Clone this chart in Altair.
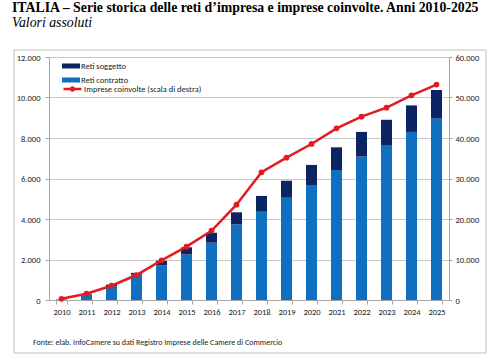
import altair as alt
import pandas as pd

years = [str(y) for y in range(2010, 2026)]
reti_contratto = [20, 260, 690, 1260, 1710, 2250, 2830, 3740, 4360, 5050, 5680, 6420, 7080, 7620, 8300, 8970]
reti_soggetto = [10, 30, 70, 80, 230, 350, 490, 590, 780, 840, 990, 1120, 1220, 1280, 1310, 1400]
imprese = [300, 1550, 3530, 6170, 9800, 13170, 17100, 23530, 31540, 35140, 38520, 42390, 45270, 47490, 50540, 53190]

TITLE = "ITALIA – Serie storica delle reti d’impresa e imprese coinvolte. Anni 2010-2025"
SUBTITLE = "Valori assoluti"
FOOTER = "Fonte: elab. InfoCamere su dati Registro Imprese delle Camere di Commercio"
SANS = "Carlito, Liberation Sans Narrow, DejaVu Sans Condensed, sans-serif"

rows = []
for i, y in enumerate(years):
    rows.append({"anno": y, "serie": "Reti contratto", "valore": reti_contratto[i], "ord": 0})
    rows.append({"anno": y, "serie": "Reti soggetto", "valore": reti_soggetto[i], "ord": 1})
bars_df = pd.DataFrame(rows)
line_df = pd.DataFrame({"anno": years, "imprese": imprese, "serie": ["Imprese coinvolte (scala di destra)"] * len(years)})

fmt = "replace(format(datum.value, ','), ',', '.')"

xenc = alt.X("anno:N", title=None, scale=alt.Scale(paddingInner=0.56, paddingOuter=0.28),
             axis=alt.Axis(labelAngle=0, labelFont=SANS, labelFontSize=8.5, labelColor="#222",
                           domainColor="#a6a6a6", tickColor="#a6a6a6", tickBand="extent", tickSize=4,
                           labelPadding=3))

bars = alt.Chart(bars_df).mark_bar().encode(
    x=xenc,
    y=alt.Y("sum(valore):Q", title=None, stack="zero",
            scale=alt.Scale(domain=[0, 12000], nice=False),
            axis=alt.Axis(values=list(range(0, 12001, 2000)), labelExpr=fmt, labelFont=SANS, labelFontSize=8.5,
                          labelColor="#222", grid=True, gridColor="#c8c8c8", domainColor="#a6a6a6",
                          tickColor="#a6a6a6", tickSize=4, labelPadding=5)),
    color=alt.Color("serie:N", scale=alt.Scale(domain=["Reti soggetto", "Reti contratto"], range=["#0c2461", "#0f6fc1"]),
                    legend=alt.Legend(title=None, orient="none", legendX=13, legendY=5, labelFont=SANS,
                                      labelFontSize=8.5, labelColor="#222", padding=0, rowPadding=5, clipHeight=8,
                                      symbolType="M-1,-0.28H1V0.28H-1Z", symbolSize=324, symbolStrokeWidth=0,
                                      labelOffset=1, symbolOffset=0)),
    order=alt.Order("ord:Q"),
)

line = alt.Chart(line_df).mark_line(color="#e31b23", strokeWidth=2.5, point=alt.OverlayMarkDef(color="#e31b23", size=14, filled=True)).encode(
    x=alt.X("anno:N"),
    y=alt.Y("imprese:Q", title=None, scale=alt.Scale(domain=[0, 60000], nice=False),
            axis=alt.Axis(orient="right", values=list(range(0, 60001, 10000)), labelExpr=fmt, labelFont=SANS,
                          labelFontSize=8.5, labelColor="#222", grid=False, domainColor="#a6a6a6",
                          tickColor="#a6a6a6", tickSize=3, labelPadding=3)),
    stroke=alt.Stroke("serie:N", scale=alt.Scale(range=["#e31b23"]),
                      legend=alt.Legend(title=None, orient="none", legendX=13, legendY=28, labelFont=SANS,
                                        labelFontSize=8.5, labelColor="#222", padding=0, clipHeight=8,
                                        symbolType="M-1,0H1M0.16,0A0.16,0.16 0 1,1 -0.16,0A0.16,0.16 0 1,1 0.16,0",
                                        symbolSize=324, symbolStrokeWidth=2.5, symbolFillColor="#e31b23",
                                        labelOffset=1)),
)

frame_df = pd.DataFrame({"k": [1]})
frame = alt.Chart(frame_df).mark_rect(fill=None, stroke="#bfbfbf", strokeWidth=1).encode(
    x=alt.value(-35), x2=alt.value(437), y=alt.value(-7), y2=alt.value(296))

foot_df = pd.DataFrame({"t": [FOOTER]})
footer = alt.Chart(foot_df).mark_text(align="left", baseline="middle", font=SANS, fontSize=8, color="#222").encode(
    text="t:N", x=alt.value(-16), y=alt.value(286))

chart = alt.layer(frame, bars, line, footer).resolve_scale(y="independent", color="independent", stroke="independent").properties(
    width=400, height=243,
    autosize=alt.AutoSizeParams(type="none"),
    padding={"left": 49, "top": 57, "right": 51, "bottom": 57},
    title=alt.TitleParams(TITLE, subtitle=SUBTITLE, anchor="start", frame="group", dx=-37,
                          font="Liberation Serif", fontSize=13.8, fontWeight="bold", color="#000",
                          subtitleFont="Liberation Serif", subtitleFontSize=13.8, subtitleFontStyle="italic",
                          subtitleColor="#000", subtitlePadding=0.5, offset=20),
).configure_view(stroke=None).configure(background="white")

chart.save("out.html", embed_options={"renderer": "svg", "actions": False})
